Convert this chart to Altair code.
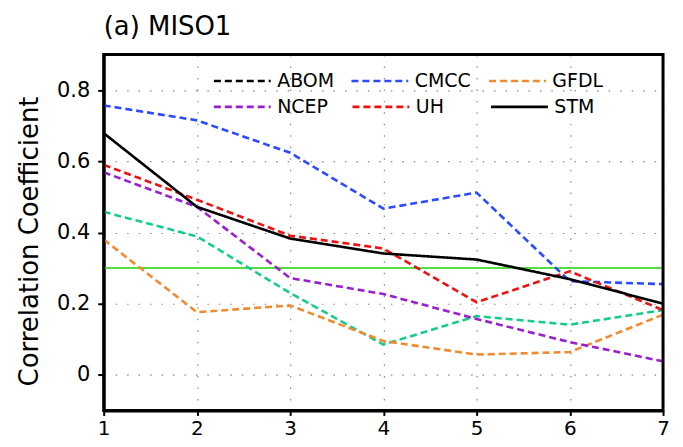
import altair as alt
import pandas as pd

# ---- data ----
lead = [1, 2, 3, 4, 5, 6, 7]
row1_models = ["ABOM", "CMCC", "GFDL"]
row2_models = ["NCEP", "UH", "STM"]
abom = [0.458, 0.389, 0.230, 0.085, 0.165, 0.141, 0.182]
cmcc = [0.757, 0.715, 0.624, 0.467, 0.512, 0.263, 0.255]
gfdl = [0.380, 0.176, 0.195, 0.095, 0.057, 0.064, 0.169]
ncep = [0.569, 0.472, 0.272, 0.227, 0.157, 0.092, 0.038]
uh = [0.590, 0.492, 0.391, 0.355, 0.204, 0.291, 0.182]
stm = [0.679, 0.472, 0.383, 0.341, 0.324, 0.269, 0.200]
threshold = [0.3]
y_ticks = [0, 0.2, 0.4, 0.6, 0.8]
x_range = [1, 7]
y_range = [-0.1, 0.9]

# ---- styles ----
row1_colors = ["#000000", "#2a4bff", "#f28a30"]
row2_colors = ["#9b1fd0", "#ee1111", "#000000"]
row1_dashes = [[7, 4], [7, 4], [7, 4]]
row2_dashes = [[7, 4], [7, 4], [1, 0]]
row2_widths = [2.6, 2.6, 3.2]
abom_line_color = "#16cc8c"
font = "DejaVu Sans"
plot_w, plot_h = 561, 357


def long_df(series):
    rows = []
    for m, vals in series.items():
        for x, v in zip(lead, vals):
            rows.append({"lead": x, "value": v, "model": m})
    return pd.DataFrame(rows)


row1_df = long_df({"CMCC": cmcc, "GFDL": gfdl})
row2_df = long_df({"NCEP": ncep, "UH": uh, "STM": stm})
abom_df = pd.DataFrame({"lead": lead, "value": abom})
thr_df = pd.DataFrame({"value": threshold})
# closed outline of the plot area, built from the axis limits
frame_df = pd.DataFrame({
    "lead": [x_range[0], x_range[1], x_range[1], x_range[0], x_range[0]],
    "value": [y_range[0], y_range[0], y_range[1], y_range[1], y_range[0]],
    "k": [0, 1, 2, 3, 4],
})

xs = alt.Scale(domain=x_range, nice=False, zero=False)
ys = alt.Scale(domain=y_range, nice=False, zero=False)

grid = dict(grid=True, gridDash=[1.5, 10], gridColor="#888888", gridWidth=1.2)
frame_line = dict(domain=True, domainColor="black", domainWidth=3)

x_main = alt.X(
    "lead:Q", scale=xs,
    axis=alt.Axis(values=lead, format="d", title=None, **grid, **frame_line,
                  tickSize=5, tickWidth=2, tickColor="black", labelFlush=False,
                  labelFontSize=20, labelPadding=3, labelColor="black",
                  labelFont=font),
)
y_main = alt.Y(
    "value:Q", scale=ys,
    axis=alt.Axis(values=y_ticks, format=".1~f", title="Correlation  Coefficient",
                  **grid, **frame_line, tickSize=6, tickWidth=2, tickColor="black",
                  labelFlush=False,
                  labelFontSize=21, labelPadding=8, labelColor="black",
                  labelFont=font, titleFont=font, titleFontSize=26,
                  titleFontWeight="normal", titleColor="black", titlePadding=14,
                  titleY=187),
)
x_plain = alt.X("lead:Q", scale=xs, axis=None)
y_plain = alt.Y("value:Q", scale=ys, axis=None)


def legend(y, col_pad):
    return alt.Legend(title=None, orient="none", legendX=109, legendY=y,
                      columns=3, direction="horizontal", symbolType="stroke",
                      symbolSize=3249, symbolStrokeWidth=2.6, labelFont=font,
                      labelFontSize=19, labelColor="black", labelOffset=5,
                      columnPadding=col_pad, gridAlign="all", padding=0)


leg1 = legend(-3.5, 11)
leg2 = legend(22.5, 19)

thr = alt.Chart(thr_df).mark_rule(color="#55dd44", strokeWidth=2).encode(y=y_plain)

abom_line = alt.Chart(abom_df).mark_line(
    color=abom_line_color, strokeWidth=2.6, strokeDash=[7, 4]
).encode(x=x_main, y=y_main)

lines1 = alt.Chart(row1_df).mark_line(strokeWidth=2.6).encode(
    x=x_plain, y=y_plain,
    color=alt.Color("model:N", scale=alt.Scale(domain=row1_models, range=row1_colors), legend=leg1),
    strokeDash=alt.StrokeDash("model:N", scale=alt.Scale(domain=row1_models, range=row1_dashes), legend=leg1),
)

lines2 = alt.Chart(row2_df).mark_line().encode(
    x=x_plain, y=y_plain,
    color=alt.Color("model:N", scale=alt.Scale(domain=row2_models, range=row2_colors), legend=leg2),
    strokeDash=alt.StrokeDash("model:N", scale=alt.Scale(domain=row2_models, range=row2_dashes), legend=leg2),
    strokeWidth=alt.StrokeWidth("model:N", scale=alt.Scale(domain=row2_models, range=row2_widths), legend=None),
)

# plot frame as a closed line through the four corners
frame = alt.Chart(frame_df).mark_line(color="black", strokeWidth=3, strokeCap="square").encode(
    x=x_plain, y=y_plain, order="k:O"
)

chart = alt.layer(
    thr, abom_line, lines1, lines2, frame
).resolve_scale(
    color="independent", strokeDash="independent", strokeWidth="independent"
).resolve_axis(
    x="independent", y="independent"
).properties(
    width=plot_w, height=plot_h,
    background="white",
    title=alt.TitleParams("(a)  MISO1", anchor="start", font=font, fontSize=26,
                          fontWeight="normal", color="black", offset=-12,
                          baseline="alphabetic", frame="group"),
    padding={"left": 8, "top": 5, "right": 5, "bottom": 5},
).configure_view(stroke=None)

chart.save("out.html", embed_options={"renderer": "svg", "actions": False})
